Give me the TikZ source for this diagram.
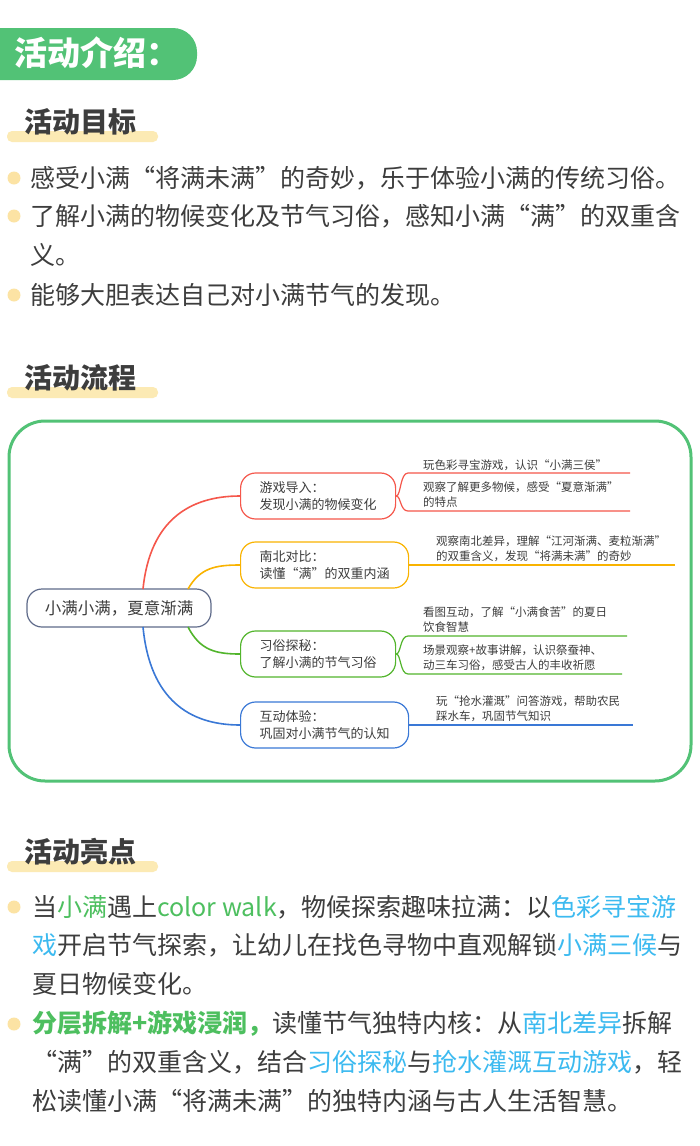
\documentclass[tikz,border=0pt]{standalone}
\usepackage{fontspec}
\setmainfont{Noto Sans CJK SC}
\usetikzlibrary{positioning}
\definecolor{txt}{HTML}{3D3D3D}
\definecolor{hgreen}{HTML}{52C276}
\definecolor{hbar}{HTML}{FCEAB4}
\definecolor{hdot}{HTML}{FCE3A4}
\definecolor{hlg}{HTML}{4DBF5F}
\definecolor{hlb}{HTML}{3CBAF0}
\definecolor{mred}{HTML}{F5574B}
\definecolor{mora}{HTML}{F9B300}
\definecolor{mgrn}{HTML}{52B52C}
\definecolor{mblu}{HTML}{3A78D6}
\definecolor{mcen}{HTML}{5F6B8A}
\newcommand{\hlgreen}[1]{\textcolor{hlg}{#1}}
\newcommand{\hlblue}[1]{\textcolor{hlb}{#1}}
\tikzset{
  bodyline/.style={anchor=west, inner sep=0pt, text=txt, font=\fontsize{25}{26}\selectfont},
  headtxt/.style={anchor=west, inner sep=0pt, text=txt, font=\fontsize{28}{30}\selectfont\bfseries},
  branchbox/.style={draw=#1, line width=1.2pt, rounded corners=15pt, minimum height=46pt,
    align=left, anchor=west, inner xsep=10pt, text=txt, font=\fontsize{13}{16.5}\selectfont},
  leaftxt/.style={anchor=south west, inner sep=1pt, align=left, text=txt, font=\fontsize{11.5}{15.5}\selectfont},
  leafline/.style={draw=#1, line width=1.2pt},
}
\begin{document}
\begin{tikzpicture}[x=1pt,y=-1pt]
\useasboundingbox (0,0) rectangle (700,1146);
\fill[white] (0,0) rectangle (700,1146);
% title
\fill[hgreen, rounded corners=24pt] (-30,28) rectangle (197,80);
\node[anchor=west, inner sep=0pt, text=white, font=\fontsize{33}{35}\selectfont\bfseries] (title) at (14,53) {活动介绍：};
% headings
\foreach \y/\t [count=\i] in {122/活动目标, 378/活动流程, 852/活动亮点} {
  \fill[hbar, rounded corners=5pt] (7,\y+9) rectangle (158,\y+20);
  \node[headtxt] (head\i) at (24,\y) {\t};
}
% goals
\foreach \y in {178,216,295} \fill[hdot] (14,\y) circle (6.5pt);
\node[bodyline] (g1) at (30,178) {感受小满“将满未满”的奇妙，乐于体验小满的传统习俗。};
\node[bodyline] (g2) at (30,216) {了解小满的物候变化及节气习俗，感知小满“满”的双重含};
\node[bodyline] (g3) at (30,255) {义。};
\node[bodyline] (g4) at (30,295) {能够大胆表达自己对小满节气的发现。};
% mind map frame
\draw[hgreen, line width=3pt, rounded corners=36pt] (9,421) rectangle (691,781);
\node[draw=mcen, line width=1.2pt, rounded corners=15pt, minimum width=184pt, minimum height=38pt,
  text=txt, font=\fontsize{16.5}{18}\selectfont] (cen) at (119,608) {小满小满，夏意渐满};
\node[branchbox=mred, minimum width=155pt] (b1) at (240,496) {游戏导入：\\发现小满的物候变化};
\node[branchbox=mora, minimum width=168pt] (b2) at (240,565) {南北对比：\\读懂“满”的双重内涵};
\node[branchbox=mgrn, minimum width=155pt] (b3) at (240,654) {习俗探秘：\\了解小满的节气习俗};
\node[branchbox=mblu, minimum width=168pt] (b4) at (240,725) {互动体验：\\巩固对小满节气的认知};
\draw[mred, line width=1.6pt] (143,589) .. controls (150,520) and (190,496) .. (b1.west);
\draw[mora, line width=1.6pt] (188,589) .. controls (200,568) and (215,565) .. (b2.west);
\draw[mgrn, line width=1.6pt] (188,627) .. controls (200,650) and (215,654) .. (b3.west);
\draw[mblu, line width=1.6pt] (143,627) .. controls (150,700) and (190,725) .. (b4.west);
% leaves
\coordinate (l1a) at (408,473); \coordinate (l1b) at (408,511);
\draw[leafline=mred] (b1.east) .. controls (401,496) and (400,473) .. (l1a) -- (630,473);
\draw[leafline=mred] (b1.east) .. controls (401,496) and (400,511) .. (l1b) -- (630,511);
\node[leaftxt] (t11) at (422,472) {玩色彩寻宝游戏，认识“小满三侯”};
\node[leaftxt] (t12) at (422,509) {观察了解更多物候，感受“夏意渐满”\\的特点};
\coordinate (l2) at (675,565);
\draw[leafline=mora] (b2.east) -- (l2);
\node[leaftxt] (t21) at (435,563) {观察南北差异，理解“江河渐满、麦粒渐满”\\的双重含义，发现“将满未满”的奇妙};
\coordinate (l3a) at (408,636); \coordinate (l3b) at (408,674);
\draw[leafline=mgrn] (b3.east) .. controls (401,654) and (400,636) .. (l3a) -- (627,636);
\draw[leafline=mgrn] (b3.east) .. controls (401,654) and (400,674) .. (l3b) -- (622,674);
\node[leaftxt] (t31) at (422,634) {看图互动，了解“小满食苦”的夏日\\饮食智慧};
\node[leaftxt] (t32) at (422,672) {场景观察+故事讲解，认识祭蚕神、\\动三车习俗，感受古人的丰收祈愿};
\coordinate (l4) at (633,725);
\draw[leafline=mblu] (b4.east) -- (l4);
\node[leaftxt] (t41) at (435,723) {玩“抢水灌溉”问答游戏，帮助农民\\踩水车，巩固节气知识};
% highlights
\foreach \y in {907,1024} \fill[hdot] (14,\y) circle (6.5pt);
\node[bodyline] (h1) at (32,907) {当\hlgreen{小满}遇上\hlgreen{color walk}，物候探索趣味拉满：以\hlblue{色彩寻宝游}};
\node[bodyline] (h2) at (32,945) {\hlblue{戏}开启节气探索，让幼儿在找色寻物中直观解锁\hlblue{小满三候}与};
\node[bodyline] (h3) at (32,984) {夏日物候变化。};
\node[bodyline] (h4) at (32,1024) {\hlgreen{\bfseries 分层拆解+游戏浸润，}读懂节气独特内核：从\hlblue{南北差异}拆解};
\node[bodyline] (h5) at (32,1062) {“满”的双重含义，结合\hlblue{习俗探秘}与\hlblue{抢水灌溉互动游戏}，轻};
\node[bodyline] (h6) at (32,1101) {松读懂小满“将满未满”的独特内涵与古人生活智慧。};
\end{tikzpicture}
\end{document}
